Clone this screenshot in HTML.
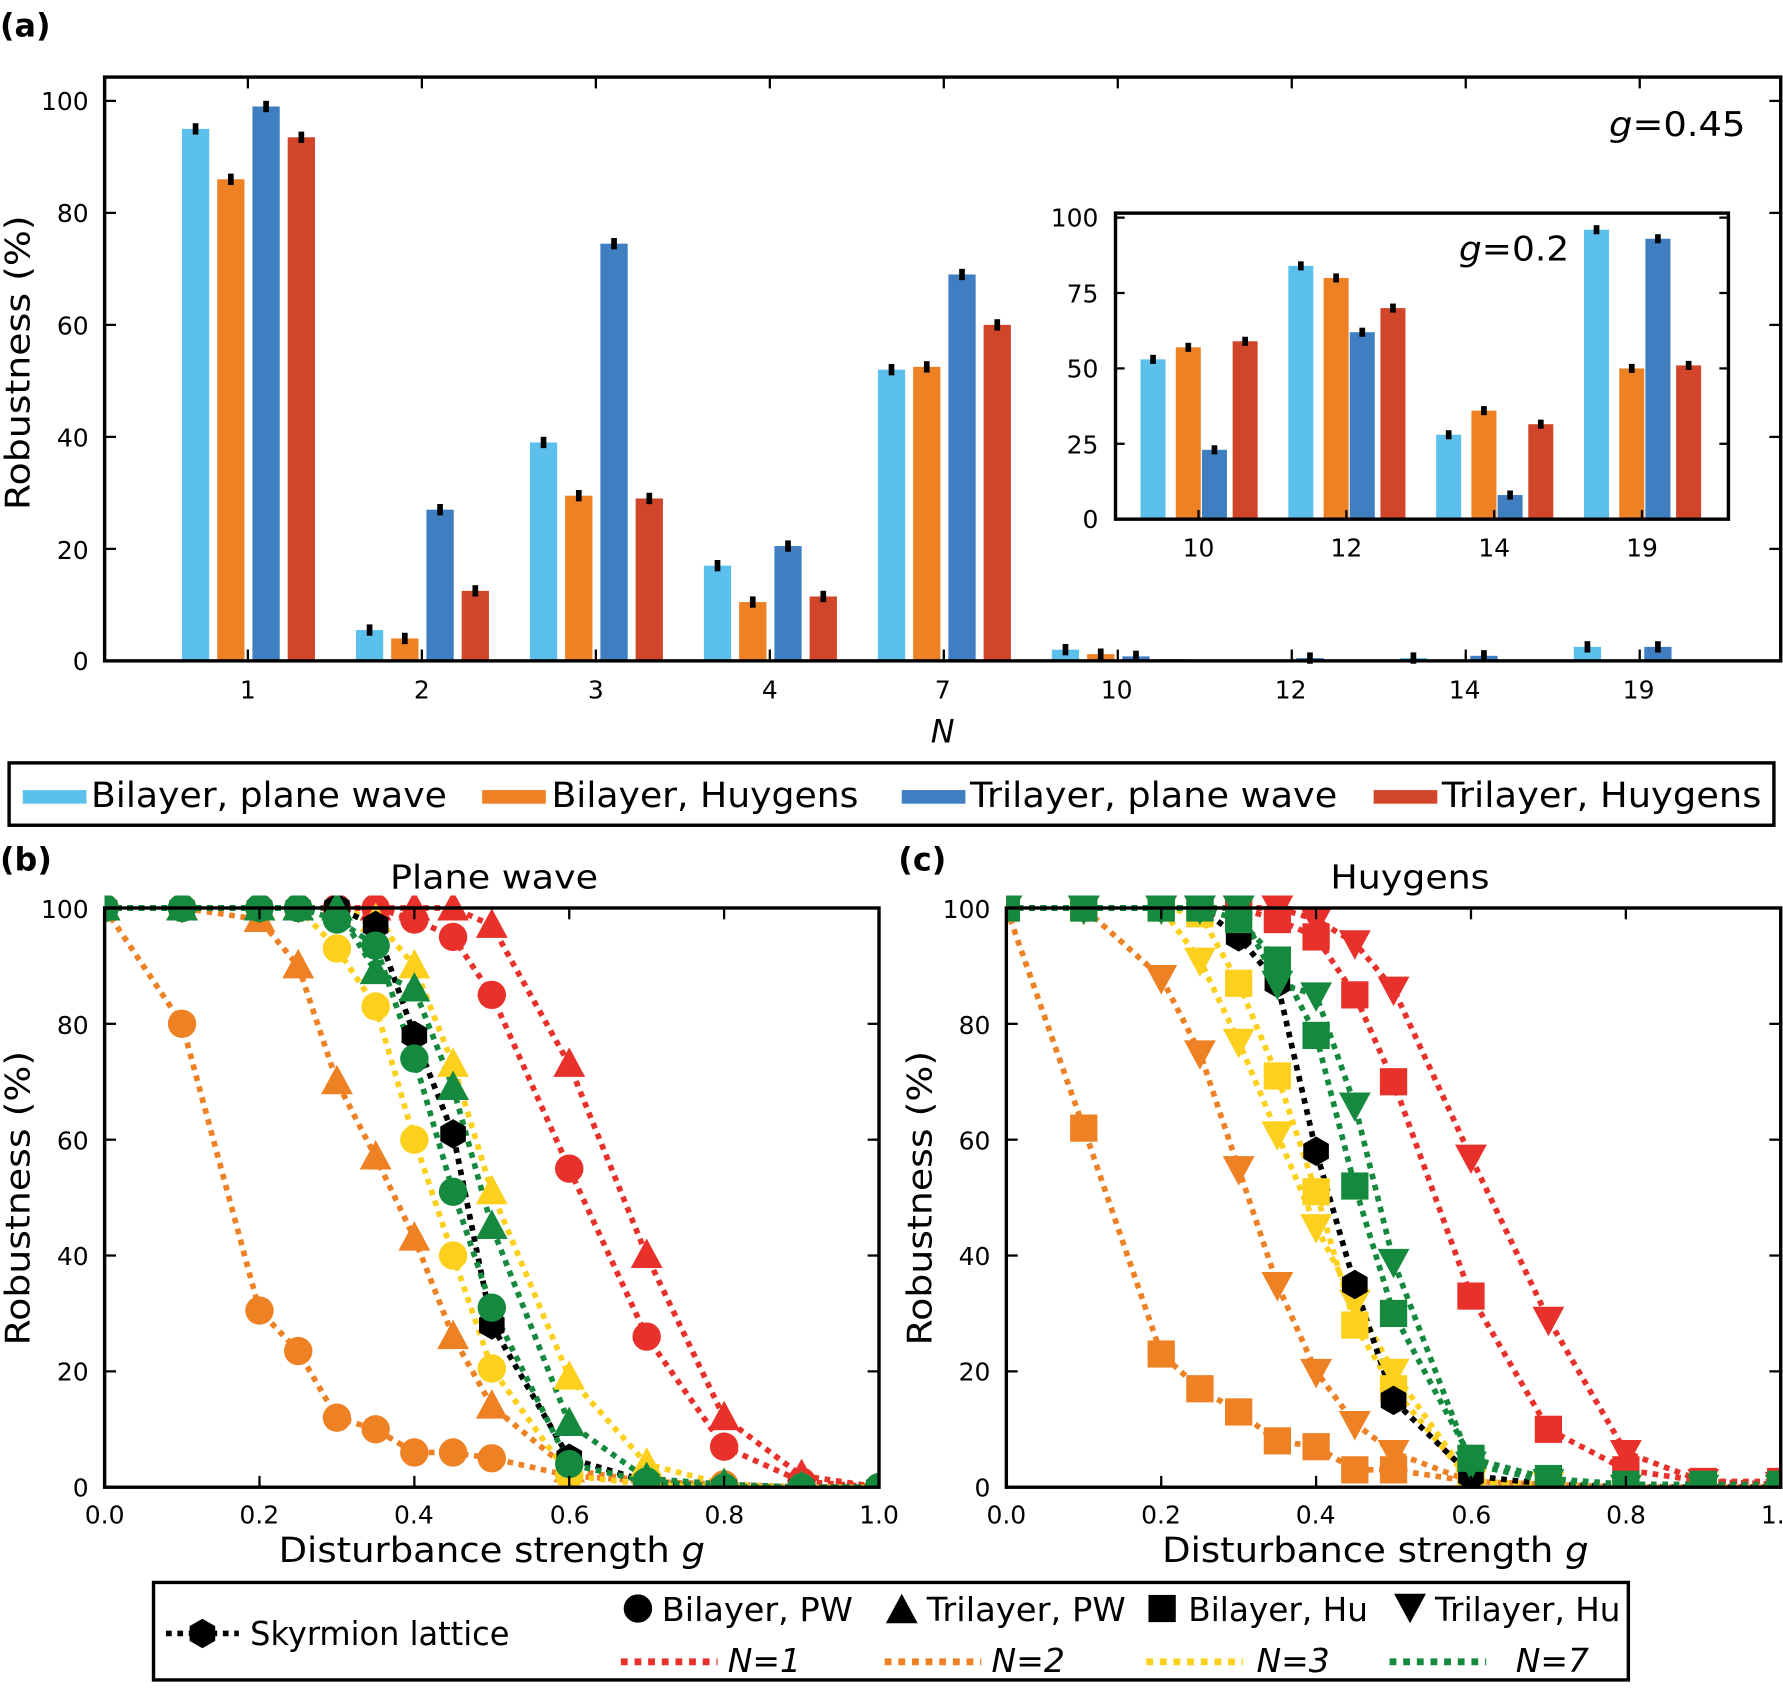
<!DOCTYPE html>
<html><head><meta charset="utf-8"><style>
html,body{margin:0;padding:0;background:#fff}
svg{display:block}
text{font-family:"DejaVu Sans","Liberation Sans",sans-serif;fill:#000}
</style></head><body>
<svg id="s" width="1783" height="1689" viewBox="0 0 1568 1490" preserveAspectRatio="none" xmlns="http://www.w3.org/2000/svg">
<defs>
<clipPath id="cb"><rect x="92" y="790" width="681" height="522"/></clipPath>
<clipPath id="cc"><rect x="885" y="790" width="681" height="522"/></clipPath>
</defs>
<text x="0" y="32" font-size="28" font-weight="bold">(a)</text>
<g id="pa"></g>
<rect x="92" y="68" width="1474" height="515" fill="none" stroke="#000" stroke-width="3"/>
<g font-size="22" text-anchor="end">
<text x="78" y="591">0</text><text x="78" y="493">20</text><text x="78" y="394">40</text><text x="78" y="295">60</text><text x="78" y="196">80</text><text x="78" y="97">100</text>
</g>
<g font-size="22" text-anchor="middle">
<text x="218" y="616">1</text><text x="371" y="616">2</text><text x="524" y="616">3</text><text x="677" y="616">4</text><text x="829" y="616">7</text><text x="982" y="616">10</text><text x="1135" y="616">12</text><text x="1288" y="616">14</text><text x="1441" y="616">19</text>
</g>
<text x="829" y="655" font-size="28" font-style="italic" text-anchor="middle">N</text>
<text x="-450" y="26" transform="rotate(-90)" font-size="30" textLength="260" lengthAdjust="spacingAndGlyphs">Robustness (%)</text>
<text x="1415" y="120" font-size="30" textLength="120" lengthAdjust="spacingAndGlyphs"><tspan font-style="italic">g</tspan>=0.45</text>
<g id="pi"></g>
<rect x="981" y="188" width="539" height="270" fill="none" stroke="#000" stroke-width="3"/>
<g font-size="22" text-anchor="end">
<text x="966" y="466">0</text><text x="966" y="400">25</text><text x="966" y="333">50</text><text x="966" y="267">75</text><text x="966" y="200">100</text>
</g>
<g font-size="22" text-anchor="middle">
<text x="1054" y="491">10</text><text x="1184" y="491">12</text><text x="1314" y="491">14</text><text x="1444" y="491">19</text>
</g>
<text x="1283" y="230" font-size="30" textLength="97" lengthAdjust="spacingAndGlyphs"><tspan font-style="italic">g</tspan>=0.2</text>

<rect x="8" y="673" width="1552" height="55" fill="#fff" stroke="#000" stroke-width="3"/>
<g font-size="31">
<rect x="20" y="697" width="56" height="12" fill="#5bc0eb"/><text x="80" y="712" textLength="313" lengthAdjust="spacingAndGlyphs">Bilayer, plane wave</text>
<rect x="424" y="697" width="56" height="12" fill="#ef8125"/><text x="485" y="712" textLength="270" lengthAdjust="spacingAndGlyphs">Bilayer, Huygens</text>
<rect x="793" y="697" width="56" height="12" fill="#3f7fc1"/><text x="853" y="712" textLength="323" lengthAdjust="spacingAndGlyphs">Trilayer, plane wave</text>
<rect x="1208" y="697" width="56" height="12" fill="#d1462b"/><text x="1268" y="712" textLength="281" lengthAdjust="spacingAndGlyphs">Trilayer, Huygens</text>
</g>

<text x="0" y="768" font-size="28" font-weight="bold">(b)</text>
<text x="790" y="768" font-size="28" font-weight="bold">(c)</text>
<text x="343" y="784" font-size="29" textLength="183" lengthAdjust="spacingAndGlyphs">Plane wave</text>
<text x="1170" y="784" font-size="29" textLength="140" lengthAdjust="spacingAndGlyphs">Huygens</text>
<g id="pb" clip-path="url(#cb)"></g>
<g id="pc" clip-path="url(#cc)"></g>
<rect x="92" y="801" width="681" height="511" fill="none" stroke="#000" stroke-width="3"/>
<rect x="885" y="801" width="681" height="511" fill="none" stroke="#000" stroke-width="3"/>
<g id="ticks"></g>
<g font-size="22" text-anchor="end">
<text x="78" y="1320">0</text><text x="78" y="1218">20</text><text x="78" y="1116">40</text><text x="78" y="1014">60</text><text x="78" y="912">80</text><text x="78" y="810">100</text>
<text x="871" y="1320">0</text><text x="871" y="1218">20</text><text x="871" y="1116">40</text><text x="871" y="1014">60</text><text x="871" y="912">80</text><text x="871" y="810">100</text>
</g>
<g font-size="22" text-anchor="middle">
<text x="92" y="1344">0.0</text><text x="228" y="1344">0.2</text><text x="364" y="1344">0.4</text><text x="501" y="1344">0.6</text><text x="637" y="1344">0.8</text><text x="773" y="1344">1.0</text>
<text x="885" y="1344">0.0</text><text x="1021" y="1344">0.2</text><text x="1157" y="1344">0.4</text><text x="1294" y="1344">0.6</text><text x="1430" y="1344">0.8</text><text x="1566" y="1344">1.0</text>
</g>
<text x="245" y="1378" font-size="31" textLength="375" lengthAdjust="spacingAndGlyphs">Disturbance strength <tspan font-style="italic">g</tspan></text>
<text x="1022" y="1378" font-size="31" textLength="375" lengthAdjust="spacingAndGlyphs">Disturbance strength <tspan font-style="italic">g</tspan></text>
<text x="-1187" y="26" transform="rotate(-90)" font-size="30" textLength="260" lengthAdjust="spacingAndGlyphs">Robustness (%)</text>
<text x="-1187" y="819" transform="rotate(-90)" font-size="30" textLength="260" lengthAdjust="spacingAndGlyphs">Robustness (%)</text>

<rect x="135" y="1396" width="1297" height="86" fill="#fff" stroke="#000" stroke-width="3"/>
<g id="leg"></g>
<g font-size="29">
<text x="220" y="1451" textLength="228" lengthAdjust="spacingAndGlyphs">Skyrmion lattice</text>
<text x="582" y="1430" textLength="168" lengthAdjust="spacingAndGlyphs">Bilayer, PW</text>
<text x="815" y="1430" textLength="175" lengthAdjust="spacingAndGlyphs">Trilayer, PW</text>
<text x="1045" y="1430" textLength="158" lengthAdjust="spacingAndGlyphs">Bilayer, Hu</text>
<text x="1262" y="1430" textLength="163" lengthAdjust="spacingAndGlyphs">Trilayer, Hu</text>
<text x="640" y="1475" font-style="italic">N=1</text>
<text x="872" y="1475" font-style="italic">N=2</text>
<text x="1105" y="1475" font-style="italic">N=3</text>
<text x="1333" y="1475" font-style="italic">N=7</text>
</g>
</svg>
<script>
var NS="http://www.w3.org/2000/svg";
function el(p,t,a){var e=document.createElementNS(NS,t);for(var k in a)e.setAttribute(k,a[k]);document.getElementById(p).appendChild(e);return e;}
var C=["#5bc0eb","#ef8125","#3f7fc1","#d1462b"];
var A=[[95,86,99,93.5],[5.5,4,27,12.5],[39,29.5,74.5,29],[17,10.5,20.5,11.5],[52,52.5,69,60],[2,1.2,0.8,0.3],[0.2,0,0.5,0.2],[0.5,0,0.9,0],[2.5,0.2,2.5,0]];
var off=[-46,-15,16,47];
A.forEach(function(v,i){var cx=218+153*i;v.forEach(function(h,j){var x=cx+off[j];var y=583-h*4.94;
el("pa","rect",{x:x-12,y:y,width:24,height:583-y,fill:C[j]});
if(h>0.4)el("pa","rect",{x:x-2.5,y:y-5,width:5,height:10,fill:"#000"});});});
[1,2,3,4,7,10,12,14,19].forEach(function(n,i){var x=218+153*i;el("pa","line",{x1:x,x2:x,y1:583,y2:573,stroke:"#000","stroke-width":2});el("pa","line",{x1:x,x2:x,y1:68,y2:78,stroke:"#000","stroke-width":2});});
for(var v=0;v<=100;v+=20){var y=583-v*4.94;el("pa","line",{x1:92,x2:102,y1:y,y2:y,stroke:"#000","stroke-width":2});el("pa","line",{x1:1556,x2:1566,y1:y,y2:y,stroke:"#000","stroke-width":2});}
var I=[[53,57,23,59],[84,80,62,70],[28,36,8,31.5],[96,50,93,51]];
var ioff=[-40,-9,14,41];
I.forEach(function(v,i){var cx=1054+130*i;v.forEach(function(h,j){var x=cx+ioff[j];var y=458-h*2.66;
el("pi","rect",{x:x-11,y:y,width:22,height:458-y,fill:C[j]});
el("pi","rect",{x:x-2.5,y:y-4,width:5,height:8,fill:"#000"});});
el("pi","line",{x1:cx,x2:cx,y1:458,y2:450,stroke:"#000","stroke-width":2});});
for(var v=0;v<=100;v+=25){var y=458-v*2.66;el("pi","line",{x1:981,x2:989,y1:y,y2:y,stroke:"#000","stroke-width":2});el("pi","line",{x1:1512,x2:1520,y1:y,y2:y,stroke:"#000","stroke-width":2});}
var R="#e8312a",O="#ef8125",Y="#fdd01e",G="#158a3f",K="#000";
var gs=[0,0.1,0.2,0.25,0.3,0.35,0.4,0.45,0.5,0.6,0.7,0.8,0.9,1.0];
function mk(p,x0,shape,col,x,y){
 if(shape=="c")el(p,"circle",{cx:x,cy:y,r:12.5,fill:col});
 else if(shape=="t")el(p,"polygon",{points:(x)+","+(y-15)+" "+(x-14)+","+(y+11)+" "+(x+14)+","+(y+11),fill:col});
 else if(shape=="d")el(p,"polygon",{points:(x)+","+(y+15)+" "+(x-14)+","+(y-11)+" "+(x+14)+","+(y-11),fill:col});
 else if(shape=="s")el(p,"rect",{x:x-12,y:y-12,width:24,height:24,fill:col});
 else if(shape=="h"){var pts=[];for(var k=0;k<6;k++){var a=Math.PI/6+k*Math.PI/3;pts.push((x+13*Math.cos(a))+","+(y+13*Math.sin(a)));}el(p,"polygon",{points:pts.join(" "),fill:col});}
}
function ser(p,x0,shape,col,d){
 var pts=d.map(function(v,i){return [x0+gs[i]*681,1312-v*5.11];});
 el(p,"polyline",{points:pts.map(function(q){return q.join(",")}).join(" "),fill:"none",stroke:col,"stroke-width":5,"stroke-dasharray":"5 5"});
 return pts;
}
function plot(p,x0,S){var all=[];S.forEach(function(s){all.push([s,ser(p,x0,s[0],s[1],s[2])]);});
 all.forEach(function(a){a[1].forEach(function(q){mk(p,x0,a[0][0],a[0][1],q[0],q[1]);});});}
plot("pb",92,[
 ["c",O,[100,80,30.5,23.5,12,10,6,6,5,2,1,0.5,0,0]],
 ["t",O,[100,100,98,90,70,57,43,26,14,3,1,0,0,0]],
 ["c",R,[100,100,100,100,100,100,98,95,85,55,26,7,1,0]],
 ["t",R,[100,100,100,100,100,100,100,100,97,73,40,12,2,0]],
 ["c",Y,[100,100,100,100,93,83,60,40,20.5,2,0.5,0,0,0]],
 ["t",Y,[100,100,100,100,100,98,90,73,51,19,4,0.5,0,0]],
 ["h",K,[100,100,100,100,100,97,78,61,28,5,1,0,0,0]],
 ["c",G,[100,100,100,100,98,93.5,74,51,31,4,1,0,0,0]],
 ["t",G,[100,100,100,100,100,89,86,69,45,11,1.5,0.5,0,0]]
]);
plot("pc",885,[
 ["s",O,[100,62,23,17,13,8,7,3,3,1,0.5,0,0,0]],
 ["d",O,[100,100,88,75,55,35,20,11,6,1,0.5,0,0,0]],
 ["s",R,[100,100,100,100,100,98,95,85,70,33,10,3,1,1]],
 ["d",R,[100,100,100,100,100,100,98,94,86,57,29,6,1,0.5]],
 ["s",Y,[100,100,100,99,87,71,51,28,17,1,0.5,0,0,0]],
 ["d",Y,[100,100,100,91,77,61,45,32,20,1,0.5,0,0,0]],
 ["h",K,[100,100,100,100,95,87,58,35,15,2,0.5,0,0,0]],
 ["s",G,[100,100,100,100,98,91,78,52,30,5,1.5,0.5,0.5,0.5]],
 ["d",G,[100,100,100,100,100,87,85,66,39,4,1,0,0,0]]
]);
[92,885].forEach(function(x0){for(var i=0;i<=5;i++){var x=x0+i*136.2;el("ticks","line",{x1:x,x2:x,y1:1312,y2:1302,stroke:"#000","stroke-width":2});el("ticks","line",{x1:x,x2:x,y1:801,y2:811,stroke:"#000","stroke-width":2});}
for(var v=0;v<=100;v+=20){var y=1312-v*5.11;el("ticks","line",{x1:x0,x2:x0+10,y1:y,y2:y,stroke:"#000","stroke-width":2});el("ticks","line",{x1:x0+671,x2:x0+681,y1:y,y2:y,stroke:"#000","stroke-width":2});}});
el("leg","line",{x1:146,x2:210,y1:1441,y2:1441,stroke:K,"stroke-width":5,"stroke-dasharray":"5 5"});
mk("leg",0,"h",K,178,1441);
mk("leg",0,"c",K,561,1419);mk("leg",0,"t",K,793,1421);mk("leg",0,"s",K,1022,1419);mk("leg",0,"d",K,1240,1417);
[[546,R],[778,O],[1008,Y],[1222,G]].forEach(function(a){el("leg","line",{x1:a[0],x2:a[0]+85,y1:1466,y2:1466,stroke:a[1],"stroke-width":6,"stroke-dasharray":"6 6"});});
</script>
</body></html>
